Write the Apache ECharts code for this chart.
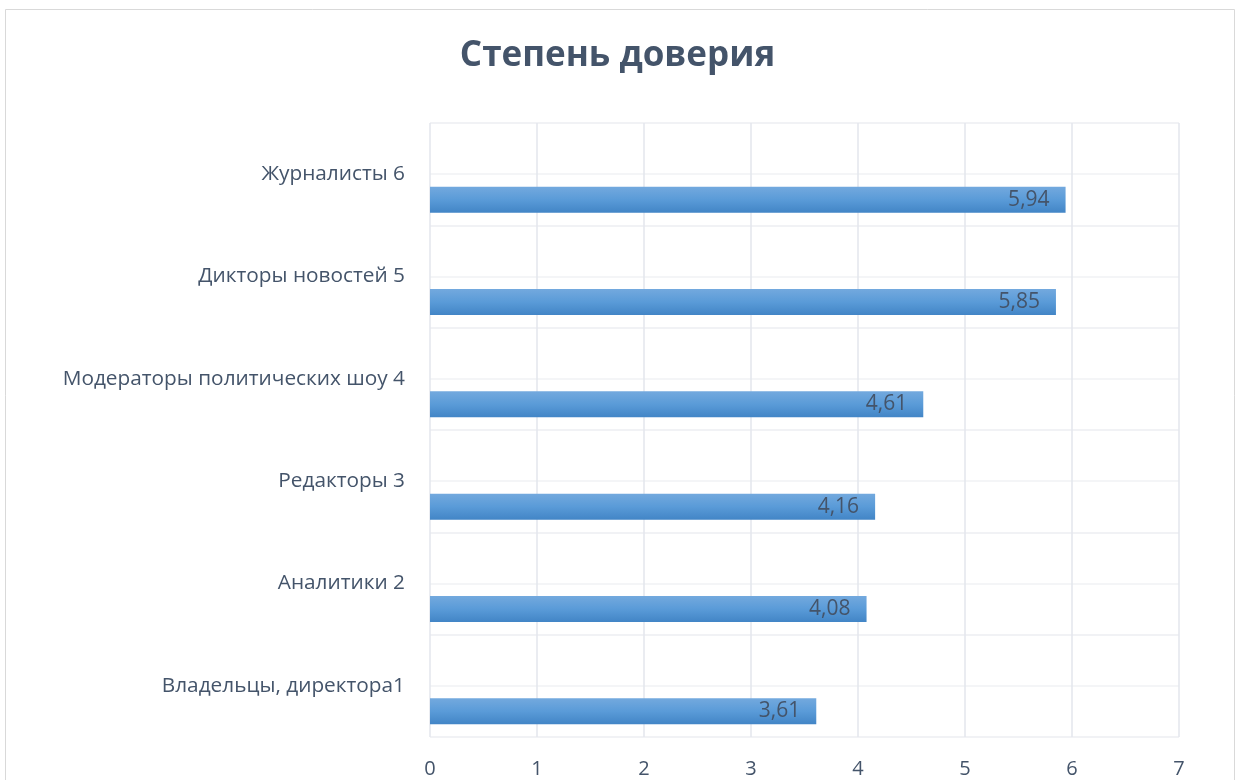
<!DOCTYPE html>
<html><head><meta charset="utf-8">
<script src="https://cdn.jsdelivr.net/npm/echarts@6/dist/echarts.min.js"></script>
<style>html,body{margin:0;padding:0;background:#fff}#c{width:1235px;height:780px}</style>
</head><body><div id="c"></div>
<script>
const categories = ['Владельцы, директора1','Аналитики 2','Редакторы 3','Модераторы политических шоу 4','Дикторы новостей 5','Журналисты 6'];
const values = [3.61, 4.08, 4.16, 4.61, 5.85, 5.94];
const xTicks = [0,1,2,3,4,5,6,7];
const titleText = 'Степень доверия';

const textColor = '#44546a';
const chart = echarts.init(document.getElementById('c'), null, {renderer:'canvas'});
chart.setOption({
  animation:false,
  backgroundColor:'#ffffff',
  title:{text:titleText,left:'center',top:34,textStyle:{fontFamily:'Open Sans',fontWeight:'bold',fontSize:35,color:textColor}},
  graphic:[{type:'rect',left:3,top:7,shape:{width:1229,height:800},style:{fill:'none',stroke:'#d9d9d9',lineWidth:1},silent:true}],
  grid:{left:430,right:56,top:123,bottom:43,containLabel:false},
  xAxis:{type:'value',min:xTicks[0],max:xTicks[xTicks.length-1],interval:1,
    axisLine:{show:false},axisTick:{show:false},
    axisLabel:{color:textColor,fontSize:20,fontFamily:'Open Sans',margin:22},
    splitLine:{lineStyle:{color:'#e3e6ec',width:1.5}}},
  yAxis:[{type:'category',data:categories,
    axisLine:{show:false},axisTick:{show:false},
    axisLabel:{color:textColor,fontSize:20.8,fontFamily:'Open Sans',margin:25},
    splitLine:{show:true,lineStyle:{color:'#eef0f3',width:1.5}}},
    {type:'value',min:0,max:12,interval:1,position:'left',show:true,
     axisLine:{show:false},axisTick:{show:false},axisLabel:{show:false},
     splitLine:{show:true,lineStyle:{color:'#f1f2f4',width:1.5}}}],
  series:[
    {type:'bar',yAxisIndex:0,data:values.map(()=>null),barWidth:26,barGap:'96%'},
    {type:'bar',yAxisIndex:0,data:values,barWidth:26,barGap:'96%',
     itemStyle:{color:new echarts.graphic.LinearGradient(0,0,0,1,[{offset:0,color:'#73a9de'},{offset:0.5,color:'#5a9bd8'},{offset:1,color:'#4285c6'}])},
     label:{show:true,position:'insideRight',distance:16,color:textColor,fontSize:21,fontFamily:'Open Sans',
       formatter:p=>p.value.toFixed(2).replace('.',',')}}
  ]
});
</script></body></html>
